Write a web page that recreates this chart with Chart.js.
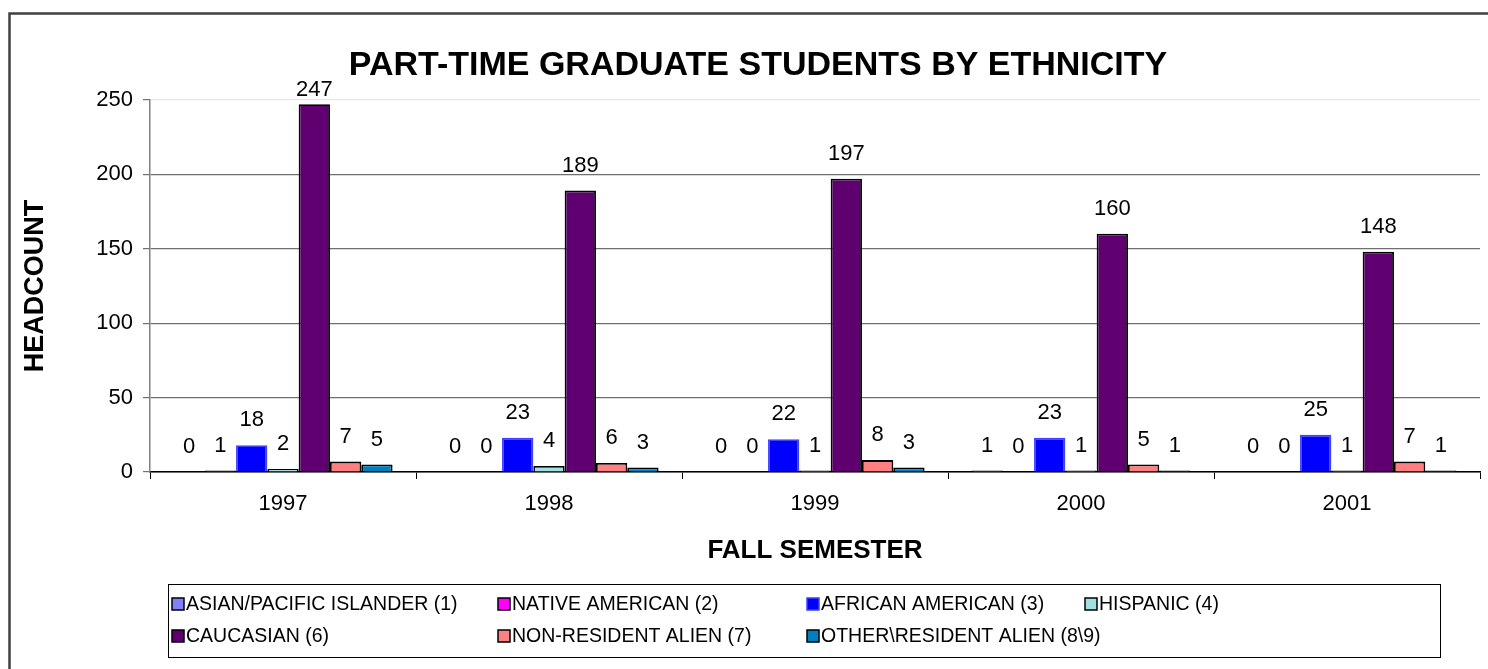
<!DOCTYPE html>
<html>
<head>
<meta charset="utf-8">
<title>Part-time graduate students by ethnicity</title>
<script src="https://cdn.jsdelivr.net/npm/chart.js@4/dist/chart.umd.min.js"></script>
<style>
  html, body { margin: 0; padding: 0; background: #fff; }
  #wrap { position: relative; width: 1488px; height: 669px; }
</style>
</head>
<body>
<div id="wrap"><canvas id="chart"></canvas></div>
<script>
// Data
var years = ['1997', '1998', '1999', '2000', '2001'];
var seriesNames = [
  'ASIAN/PACIFIC ISLANDER (1)',
  'NATIVE AMERICAN (2)',
  'AFRICAN AMERICAN (3)',
  'HISPANIC (4)',
  'CAUCASIAN (6)',
  'NON-RESIDENT ALIEN (7)',
  'OTHER\\RESIDENT ALIEN (8\\9)'
];
var asian = [0, 0, 0, 1, 0];
var nativeAm = [1, 0, 0, 0, 0];
var african = [18, 23, 22, 23, 25];
var hispanic = [2, 4, 1, 1, 1];
var caucasian = [247, 189, 197, 160, 148];
var nonResident = [7, 6, 8, 5, 7];
var otherResident = [5, 3, 3, 1, 1];
var yTicks = [0, 50, 100, 150, 200, 250];

var seriesValues = [asian, nativeAm, african, hispanic, caucasian, nonResident, otherResident];
var fillColors = ['#8080FF', '#FF00FF', '#0000FF', '#A0E0E0', '#600070', '#FF8080', '#0080C0'];
var edgeColors = ['#000', '#000', '#4040FF', '#000', '#000', '#000', '#000'];

var FONT = 'Arial, "Liberation Sans", sans-serif';

var datasets = seriesValues.map(function(vals, i) {
  return {
    label: seriesNames[i],
    data: vals,
    backgroundColor: fillColors[i],
    borderColor: edgeColors[i],
    borderWidth: 1.8,
    borderSkipped: 'start',
    categoryPercentage: 0.824,
    barPercentage: 1.0
  };
});

// Outer frame of the chart (only left and top edges are visible)
var framePlugin = {
  id: 'frame',
  beforeDraw: function(chart) {
    var ctx = chart.ctx;
    ctx.save();
    ctx.fillStyle = '#fff';
    ctx.fillRect(0, 0, chart.width, chart.height);
    ctx.strokeStyle = '#404040';
    ctx.lineWidth = 2.5;
    ctx.strokeRect(9.5, 13.5, chart.width + 20, chart.height + 20);
    ctx.restore();
  }
};

// Value labels above each bar
var valueLabels = {
  id: 'valueLabels',
  afterDatasetsDraw: function(chart) {
    var ctx = chart.ctx;
    var top = chart.chartArea.top;
    ctx.save();
    ctx.font = '22px ' + FONT;
    ctx.fillStyle = '#000';
    ctx.textAlign = 'center';
    ctx.textBaseline = 'middle';
    chart.data.datasets.forEach(function(ds, i) {
      var meta = chart.getDatasetMeta(i);
      meta.data.forEach(function(bar, j) {
        var y = Math.max(bar.y - 25, top - 10);
        ctx.fillText(String(ds.data[j]), bar.x, y);
      });
    });
    ctx.restore();
  }
};

// Boxed legend under the axis title, 4 columns x 2 rows
var boxLegend = {
  id: 'boxLegend',
  afterDraw: function(chart) {
    var ctx = chart.ctx;
    var colX = [172, 498, 807, 1085];
    var rowY = [604, 636];
    ctx.save();
    ctx.strokeStyle = '#000';
    ctx.lineWidth = 1;
    ctx.strokeRect(168.5, 584.5, 1272, 73);
    ctx.font = '19.5px ' + FONT;
    ctx.textBaseline = 'middle';
    ctx.textAlign = 'left';
    chart.data.datasets.forEach(function(ds, i) {
      var x = colX[i % 4];
      var y = rowY[Math.floor(i / 4)];
      ctx.fillStyle = ds.backgroundColor;
      ctx.fillRect(x, y - 6, 12, 12);
      ctx.strokeStyle = ds.borderColor;
      ctx.lineWidth = 1.5;
      ctx.strokeRect(x, y - 6, 12, 12);
      ctx.fillStyle = '#000';
      ctx.fillText(ds.label, x + 14, y + 1);
    });
    ctx.restore();
  }
};

new Chart(document.getElementById('chart'), {
  type: 'bar',
  data: { labels: years, datasets: datasets },
  plugins: [framePlugin, valueLabels, boxLegend],
  options: {
    responsive: true,
    maintainAspectRatio: false,
    animation: false,
    layout: { padding: { left: 36, right: 8, top: 0, bottom: 0 } },
    plugins: {
      legend: { display: false },
      tooltip: { enabled: false },
      title: {
        display: true,
        text: 'PART-TIME GRADUATE STUDENTS BY ETHNICITY',
        color: '#000',
        font: { family: FONT, size: 34, weight: 'bold' },
        padding: { top: 45, bottom: 14 }
      }
    },
    scales: {
      x: {
        grid: {
          display: true,
          offset: true,
          drawOnChartArea: false,
          drawTicks: true,
          tickLength: 7,
          color: '#000',
          lineWidth: 1
        },
        border: { display: true, color: '#000', width: 1.5 },
        ticks: {
          color: '#000',
          padding: 12,
          font: { family: FONT, size: 22 }
        },
        title: {
          display: true,
          text: 'FALL SEMESTER',
          color: '#000',
          font: { family: FONT, size: 26, weight: 'bold' },
          padding: { top: 0, bottom: 103 }
        },
        afterFit: function(scale) { scale.height = 197; }
      },
      y: {
        min: 0,
        max: 250,
        afterBuildTicks: function(scale) {
          scale.ticks = yTicks.map(function(v) { return { value: v }; });
        },
        grid: {
          color: function(c) { return c.tick && c.tick.value === 250 ? '#e6e6e6' : '#707070'; },
          tickColor: '#707070',
          lineWidth: 1.2,
          tickLength: 7
        },
        border: { display: true, color: '#808080', width: 1.5 },
        ticks: {
          color: '#000',
          padding: 10,
          font: { family: FONT, size: 22 }
        },
        title: {
          display: true,
          text: 'HEADCOUNT',
          color: '#000',
          font: { family: FONT, size: 27, weight: 'bold' },
          padding: { top: -17, bottom: 0 }
        },
        afterFit: function(scale) { scale.width = 114; }
      }
    }
  }
});
</script>
</body>
</html>
